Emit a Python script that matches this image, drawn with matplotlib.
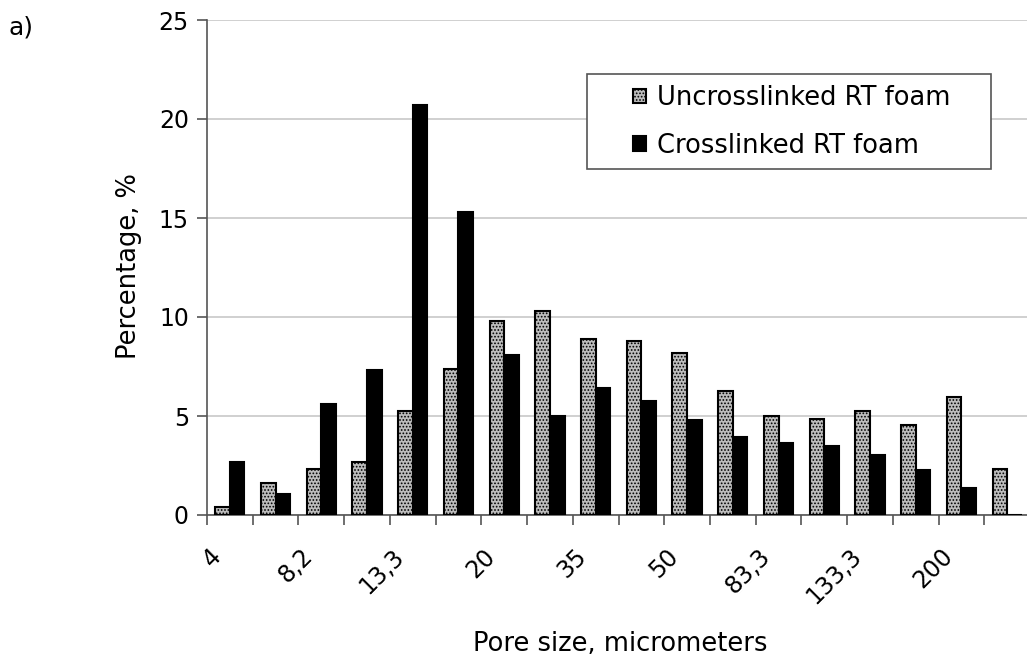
import numpy as np
import matplotlib
matplotlib.use("Agg")
import matplotlib.pyplot as plt
import matplotlib.transforms as mtransforms
from matplotlib.patches import Rectangle

plt.rcParams['font.family'] = ['DejaVu Sans']
plt.rcParams['hatch.linewidth'] = 0.8

# pore size classes (only every second label is printed on the axis)
pore_labels = ["4", "", "8,2", "", "13,3", "", "20", "", "35", "",
               "50", "", "83,3", "", "133,3", "", "200", ""]
uncrosslinked = [0.42, 1.62, 2.33, 2.66, 5.24, 7.39, 9.8, 10.3, 8.87,
                 8.8, 8.17, 6.28, 4.99, 4.87, 5.24, 4.56, 5.97, 2.31]
crosslinked = [2.66, 1.06, 5.61, 7.32, 20.7, 15.28, 8.1, 5.0, 6.41,
               5.78, 4.79, 3.94, 3.65, 3.47, 3.05, 2.25, 1.34, 0.0]

W, H = 1027, 662
fig = plt.figure(figsize=(W/100, H/100), dpi=100)
ax = fig.add_axes([207/W, 147/H, 823/W, 495/H])

x = np.arange(len(pore_labels))
w = 0.32
ax.bar(x + 0.5 - w/2, uncrosslinked, w, facecolor="#bdbdbd", edgecolor="black",
       hatch=".....", linewidth=1.5, label="Uncrosslinked RT foam", zorder=3)
ax.bar(x + 0.5 + w/2, crosslinked, w, facecolor="black", edgecolor="black",
       linewidth=1.5, label="Crosslinked RT foam", zorder=3)

ax.set_xlim(0, len(pore_labels))
ax.set_ylim(0, 25)
ax.set_yticks([0, 5, 10, 15, 20, 25])
ax.yaxis.grid(True, color="#c8c8c8", linewidth=1.2, zorder=0)
ax.set_xticks(np.arange(len(pore_labels) + 1))
ax.set_xticklabels([])
ax.set_xticks(x + 0.5, minor=True)
ax.set_xticklabels(pore_labels, minor=True, rotation=45, ha="right", va="top",
                   rotation_mode="anchor", fontsize=17)
ax.tick_params(axis="x", which="minor", length=0, pad=21)
ax.tick_params(axis="x", which="major", length=7, width=1.2, color="#555555")
ax.tick_params(axis="y", length=7, width=1.2, color="#555555", labelsize=17, pad=6)

# nudge the rotated labels to the left like the original
shift = mtransforms.ScaledTranslation(-21/100, 0, fig.dpi_scale_trans)
for lab in ax.get_xticklabels(minor=True):
    lab.set_transform(lab.get_transform() + shift)

for side in ["top", "right"]:
    ax.spines[side].set_visible(False)
for side in ["left", "bottom"]:
    ax.spines[side].set_color("#555555")
    ax.spines[side].set_linewidth(1.2)

ax.set_ylabel("Percentage, %", fontsize=18.5, va="center")
ax.yaxis.set_label_coords((129 - 207)/823, (515 - 266.5)/495)
ax.set_xlabel("Pore size, micrometers", fontsize=18.5, va="baseline")
ax.xaxis.set_label_coords((620 - 207)/823, (515 - 651)/495)

# legend box like the original (wider side padding)
ax.add_patch(Rectangle((587/W, 1 - 169/H), (991 - 587)/W, (169 - 74)/H,
                       transform=fig.transFigure, facecolor="white",
                       edgecolor="#555555", linewidth=1.2, zorder=4,
                       clip_on=False))
leg = ax.legend(loc="upper left", bbox_to_anchor=(633/W, 1 - 85/H),
                bbox_transform=fig.transFigure, fontsize=18.5, frameon=False,
                handlelength=0.5, handleheight=0.5, handletextpad=0.45,
                borderpad=0, labelspacing=0.85, borderaxespad=0)
leg.set_zorder(5)

fig.text(9/W, 1 - 28/H, "a)", fontsize=18, ha="left", va="center")

fig.savefig("out.png", dpi=100)
